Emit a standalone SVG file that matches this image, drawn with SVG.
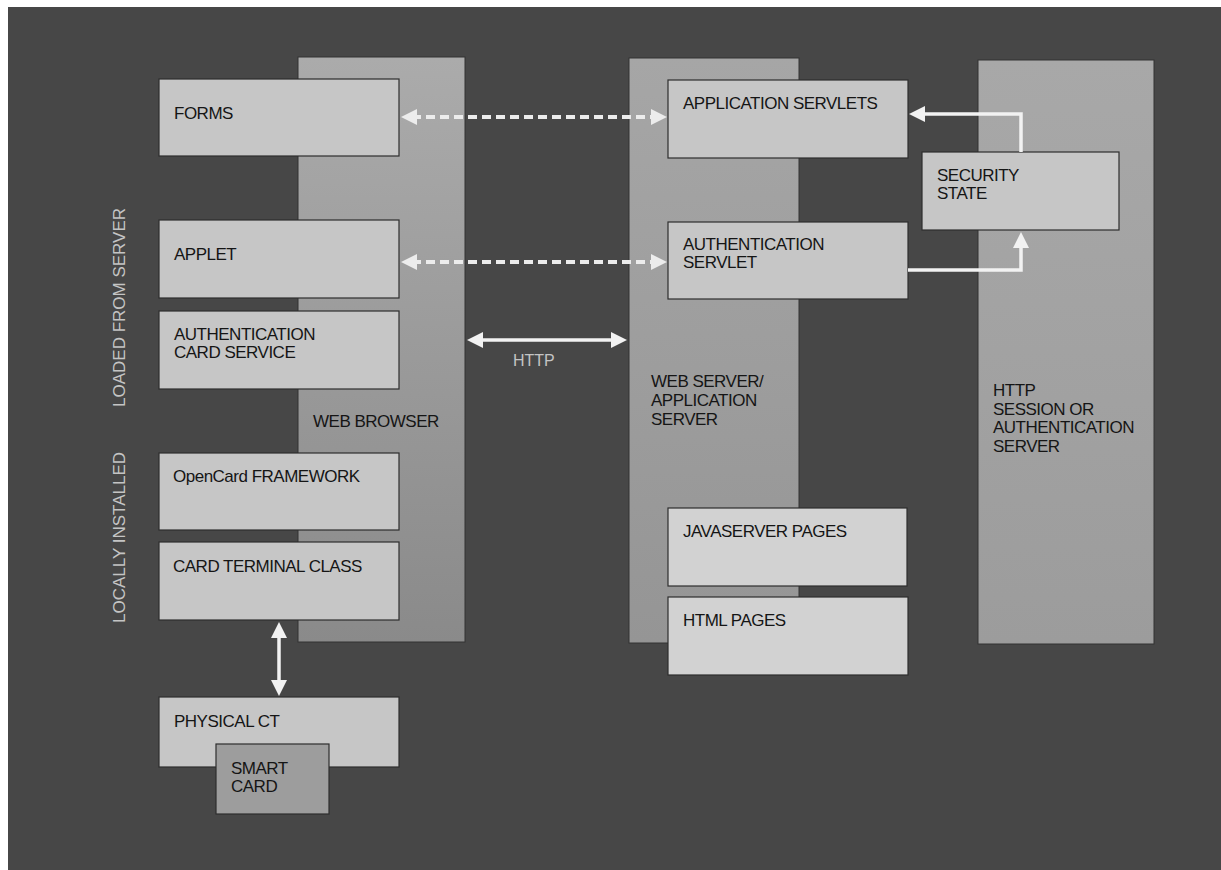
<svg xmlns="http://www.w3.org/2000/svg" width="1221" height="870" viewBox="0 0 1221 870">
  <style>
    .lbl { font-family: "Liberation Sans", Arial, sans-serif; font-size: 17px; letter-spacing: -0.5px; fill: #151515; }
    .side { font-family: "Liberation Sans", Arial, sans-serif; font-size: 17px; fill: #c4c4c4; }
    .box { fill: #c6c6c6; stroke: #2e2e2e; stroke-width: 1.2; }
    .page { fill: #d2d2d2; stroke: #2e2e2e; stroke-width: 1.2; }
    .col { stroke: #333; stroke-width: 1; }
    .dash { stroke: #ececec; stroke-width: 4; stroke-dasharray: 9 5; fill: none; }
    .solid { stroke: #f2f2f2; stroke-width: 3.5; fill: none; }
  </style>
  <defs>
    <linearGradient id="gBrowser" x1="0" y1="0" x2="0" y2="1">
      <stop offset="0" stop-color="#ababab"/>
      <stop offset="1" stop-color="#8a8a8a"/>
    </linearGradient>
    <linearGradient id="gServer" x1="0" y1="0" x2="0" y2="1">
      <stop offset="0" stop-color="#a6a6a6"/>
      <stop offset="1" stop-color="#959595"/>
    </linearGradient>
    <linearGradient id="gSession" x1="0" y1="0" x2="0" y2="1">
      <stop offset="0" stop-color="#a8a8a8"/>
      <stop offset="1" stop-color="#9c9c9c"/>
    </linearGradient>
    <marker id="headDash" viewBox="0 0 16 16" refX="5" refY="8" markerWidth="16" markerHeight="16" markerUnits="userSpaceOnUse" orient="auto-start-reverse">
      <path d="M0,0 L16,8 L0,16 z" fill="#ececec"/>
    </marker>
    <marker id="head" viewBox="0 0 16 16" refX="5" refY="8" markerWidth="16" markerHeight="16" markerUnits="userSpaceOnUse" orient="auto-start-reverse">
      <path d="M0,0 L16,8 L0,16 z" fill="#f2f2f2"/>
    </marker>
  </defs>

  <!-- page ground -->
  <rect x="0" y="0" width="1221" height="870" fill="#ffffff"/>
  <rect x="8" y="7" width="1213" height="863" fill="#474747"/>

  <!-- tier labels on the left edge -->
  <text class="side" transform="translate(125,407) rotate(-90)">LOADED FROM SERVER</text>
  <text class="side" transform="translate(125,623) rotate(-90)">LOCALLY INSTALLED</text>

  <!-- tier columns -->
  <g id="web-browser">
    <rect class="col" x="298" y="57" width="167" height="585" fill="url(#gBrowser)"/>
    <text class="lbl" x="313" y="427">WEB BROWSER</text>
  </g>
  <g id="web-server">
    <rect class="col" x="629" y="58" width="170" height="585" fill="url(#gServer)"/>
    <text class="lbl" x="651" y="387">WEB SERVER/</text>
    <text class="lbl" x="651" y="406">APPLICATION</text>
    <text class="lbl" x="651" y="425">SERVER</text>
  </g>
  <g id="session-server">
    <rect class="col" x="978" y="60" width="176" height="584" fill="url(#gSession)"/>
    <text class="lbl" x="993" y="396">HTTP</text>
    <text class="lbl" x="993" y="415">SESSION OR</text>
    <text class="lbl" x="993" y="433">AUTHENTICATION</text>
    <text class="lbl" x="993" y="452">SERVER</text>
  </g>

  <!-- client side components -->
  <g id="forms">
    <rect class="box" x="159" y="79" width="240" height="77"/>
    <text class="lbl" x="174" y="119">FORMS</text>
  </g>
  <g id="applet">
    <rect class="box" x="159" y="220" width="240" height="78"/>
    <text class="lbl" x="174" y="260">APPLET</text>
  </g>
  <g id="auth-card-service">
    <rect class="box" x="159" y="311" width="240" height="78"/>
    <text class="lbl" x="174" y="340">AUTHENTICATION</text>
    <text class="lbl" x="174" y="358">CARD SERVICE</text>
  </g>
  <g id="opencard-framework">
    <rect class="box" x="159" y="453" width="240" height="77"/>
    <text class="lbl" x="173" y="482">OpenCard FRAMEWORK</text>
  </g>
  <g id="card-terminal-class">
    <rect class="box" x="159" y="542" width="240" height="78"/>
    <text class="lbl" x="173" y="572">CARD TERMINAL CLASS</text>
  </g>
  <g id="physical-ct">
    <rect class="box" x="159" y="697" width="240" height="70"/>
    <text class="lbl" x="174" y="727">PHYSICAL CT</text>
  </g>
  <g id="smart-card">
    <rect x="216" y="744" width="113" height="70" fill="#9d9d9d" stroke="#2e2e2e" stroke-width="1.2"/>
    <text class="lbl" x="231" y="774">SMART</text>
    <text class="lbl" x="231" y="792">CARD</text>
  </g>

  <!-- server side components -->
  <g id="application-servlets">
    <rect class="box" x="668" y="80" width="240" height="78"/>
    <text class="lbl" x="683" y="109">APPLICATION SERVLETS</text>
  </g>
  <g id="authentication-servlet">
    <rect class="box" x="668" y="222" width="240" height="77"/>
    <text class="lbl" x="683" y="250">AUTHENTICATION</text>
    <text class="lbl" x="683" y="268">SERVLET</text>
  </g>
  <g id="security-state">
    <rect class="box" x="922" y="152" width="197" height="78"/>
    <text class="lbl" x="937" y="181">SECURITY</text>
    <text class="lbl" x="937" y="199">STATE</text>
  </g>
  <g id="javaserver-pages">
    <rect class="page" x="668" y="508" width="239" height="78"/>
    <text class="lbl" x="683" y="537">JAVASERVER PAGES</text>
  </g>
  <g id="html-pages">
    <rect class="page" x="668" y="597" width="240" height="78"/>
    <text class="lbl" x="683" y="626">HTML PAGES</text>
  </g>

  <!-- connectors -->
  <g id="connectors">
    <line class="dash" x1="412" y1="117" x2="656" y2="117" marker-start="url(#headDash)" marker-end="url(#headDash)"/>
    <line class="dash" x1="412" y1="262" x2="656" y2="262" marker-start="url(#headDash)" marker-end="url(#headDash)"/>
    <line class="solid" x1="478" y1="340" x2="616" y2="340" marker-start="url(#head)" marker-end="url(#head)"/>
    <text class="side" x="513" y="366" style="font-size:16px">HTTP</text>
    <path class="solid" d="M1021,152 V114 H920" marker-end="url(#head)"/>
    <path class="solid" d="M908,270 H1021 V243" marker-end="url(#head)"/>
    <line class="solid" x1="279" y1="633" x2="279" y2="685" marker-start="url(#head)" marker-end="url(#head)"/>
  </g>
</svg>
